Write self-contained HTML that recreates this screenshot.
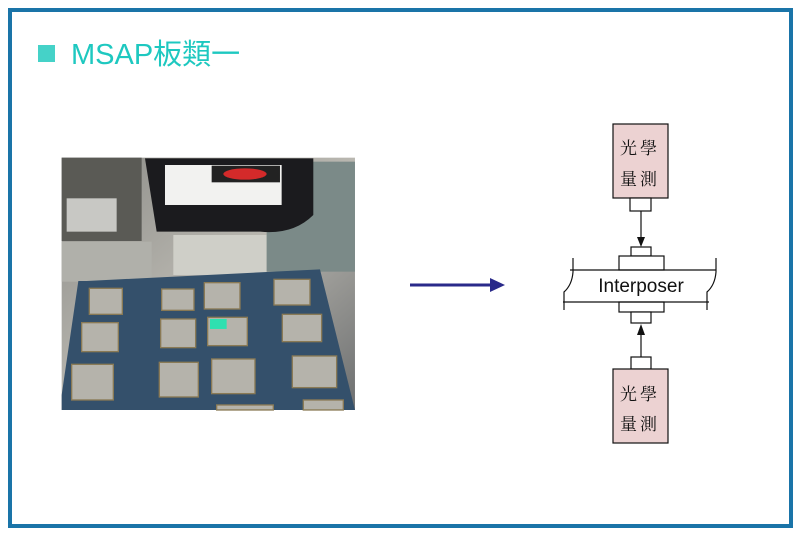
<!DOCTYPE html>
<html><head><meta charset="utf-8"><style>
body{margin:0;width:800px;height:534px;background:#fff;position:relative;overflow:hidden;font-family:"Liberation Sans","Noto Sans CJK TC",sans-serif}
.frame{position:absolute;left:8px;top:8px;width:777px;height:512px;border:4px solid #1a74a8}
.title{position:absolute;left:38px;top:31px;font-size:29px;color:#1ec8c0}
.sq{display:inline-block;width:17px;height:17px;background:#45d2c8;margin-right:16px;vertical-align:2px}
</style></head><body>
<div class="frame"></div>
<div class="title"><span class="sq"></span>MSAP板類一</div>
<svg width="800" height="534" style="position:absolute;left:0;top:0">
<defs><linearGradient id="m" x1="0" y1="0" x2="1" y2="1"><stop offset="0" stop-color="#8a8a86"/><stop offset=".5" stop-color="#b9b7b0"/><stop offset="1" stop-color="#6d6f70"/></linearGradient></defs>
<g transform="translate(60,155) scale(0.3333)">
<rect x="5" y="8" width="880" height="757" fill="url(#m)"/>
<rect x="5" y="8" width="240" height="250" fill="#5a5a55"/>
<rect x="20" y="130" width="150" height="100" fill="#c8c8c4"/>
<rect x="5" y="260" width="270" height="120" fill="#b0b0aa"/>
<rect x="340" y="240" width="280" height="120" fill="#cfcfc8"/>
<rect x="620" y="20" width="265" height="330" fill="#7b8a88"/>
<path d="M255 10 H760 V180 Q700 240 600 230 H290 Z" fill="#1b1b1e"/>
<rect x="315" y="30" width="350" height="120" fill="#f2f2f0"/>
<rect x="455" y="32" width="205" height="50" fill="#222"/>
<ellipse cx="555" cy="57" rx="65" ry="17" fill="#d42a2a"/>
<polygon points="80,378 780,343 885,765 5,765 5,720 55,378" fill="#34506b"/>
<g fill="#b5b3ab" stroke="#8a7a55" stroke-width="4">
<rect x="88" y="400" width="99" height="78"/><rect x="305" y="402" width="97" height="64"/><rect x="433" y="383" width="107" height="79"/><rect x="642" y="373" width="108" height="77"/>
<rect x="65" y="503" width="110" height="87"/><rect x="302" y="492" width="105" height="86"/><rect x="443" y="487" width="119" height="85"/><rect x="667" y="478" width="118" height="82"/>
<rect x="35" y="628" width="125" height="107"/><rect x="298" y="622" width="117" height="104"/><rect x="455" y="612" width="130" height="104"/><rect x="697" y="603" width="133" height="95"/>
<rect x="470" y="750" width="170" height="15"/><rect x="730" y="735" width="120" height="30"/>
</g>
<rect x="450" y="492" width="50" height="30" fill="#2fe0b0"/>
</g>
<line x1="410" y1="285" x2="492" y2="285" stroke="#2a2a8a" stroke-width="3"/>
<polygon points="490,278 505,285 490,292" fill="#2a2a8a"/>
<g stroke="#111" stroke-width="1.2" fill="#fff">
<rect x="613" y="124" width="55" height="74" fill="#ecd2d2"/>
<rect x="630" y="198" width="21" height="13"/>
<rect x="631" y="247" width="20" height="9"/>
<rect x="619" y="256" width="45" height="14"/>
<rect x="619" y="302" width="45" height="10"/>
<rect x="631" y="312" width="20" height="11"/>
<rect x="631" y="357" width="20" height="12"/>
<rect x="613" y="369" width="55" height="74" fill="#ecd2d2"/>
<line x1="570" y1="270" x2="716" y2="270"/>
<line x1="563" y1="302" x2="709" y2="302"/>
<path d="M573 258 V272 Q572 285 564 292 V310" fill="none"/>
<path d="M716 258 V272 Q715 285 707 292 V310" fill="none"/>
<line x1="641" y1="211" x2="641" y2="238"/>
<line x1="641" y1="335" x2="641" y2="357"/>
</g>
<polygon points="637,237 645,237 641,247" fill="#111"/>
<polygon points="637,335 645,335 641,324" fill="#111"/>
<g font-family="'Noto Serif CJK TC','Noto Serif CJK SC','Noto Sans CJK TC',serif" font-size="17" fill="#111" letter-spacing="3">
<text x="620" y="154">光學</text><text x="620" y="185">量測</text>
<text x="620" y="400">光學</text><text x="620" y="430">量測</text>
</g>
<text x="641" y="292" text-anchor="middle" font-size="19" fill="#111" font-family="Liberation Sans,sans-serif">Interposer</text>
</svg>
</body></html>
